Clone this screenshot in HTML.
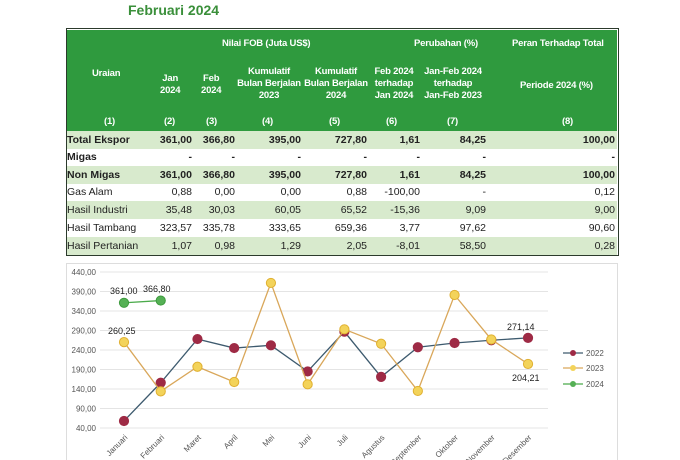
<!DOCTYPE html>
<html><head><meta charset="utf-8"><style>
body{margin:0;width:680px;height:460px;background:#fff;position:relative;overflow:hidden;font-family:"Liberation Sans",sans-serif}
.t{position:absolute;white-space:nowrap}
.h{color:#fff;font-weight:bold;font-size:9.5px;text-align:center;line-height:12px;letter-spacing:-0.2px}
.r{position:absolute;left:67px;width:550px;height:18px;font-size:10.5px;color:#222}
.r span{position:absolute;top:3px;white-space:nowrap}
.g{background:#d8eacd}
.b{font-weight:bold}
</style></head><body>
<div class="t" style="left:128px;top:2px;color:#3a8f3a;font-weight:bold;font-size:14px">Februari 2024</div>
<div style="position:absolute;left:66px;top:28px;width:551px;height:226px;border:1.5px solid #2c3a2c;"></div>
<div style="position:absolute;left:67px;top:30px;width:550px;height:101px;background:#2f9a3e"></div>
<div class="t h" style="left:222px;top:38px">Nilai FOB (Juta US$)</div>
<div class="t h" style="left:414px;top:38px">Perubahan (%)</div>
<div class="t h" style="left:512px;top:38px">Peran Terhadap Total</div>
<div class="t h" style="left:92px;top:68px">Uraian</div>
<div class="t h" style="left:160px;top:73px">Jan<br>2024</div>
<div class="t h" style="left:201px;top:73px">Feb<br>2024</div>
<div class="t h" style="left:236px;top:66px;width:66px">Kumulatif<br>Bulan Berjalan<br>2023</div>
<div class="t h" style="left:303px;top:66px;width:66px">Kumulatif<br>Bulan Berjalan<br>2024</div>
<div class="t h" style="left:370px;top:66px;width:48px">Feb 2024<br>terhadap<br>Jan 2024</div>
<div class="t h" style="left:420px;top:66px;width:66px">Jan-Feb 2024<br>terhadap<br>Jan-Feb 2023</div>
<div class="t h" style="left:520px;top:80px">Periode 2024 (%)</div>
<div class="t h" style="left:104px;top:116px">(1)</div>
<div class="t h" style="left:164px;top:116px">(2)</div>
<div class="t h" style="left:206px;top:116px">(3)</div>
<div class="t h" style="left:262px;top:116px">(4)</div>
<div class="t h" style="left:329px;top:116px">(5)</div>
<div class="t h" style="left:386px;top:116px">(6)</div>
<div class="t h" style="left:447px;top:116px">(7)</div>
<div class="t h" style="left:562px;top:116px">(8)</div>
<div id="rows"></div>
<svg style="position:absolute;left:0;top:0" width="680" height="460" id="ch"></svg>
<script>
var rows=[["Total Ekspor","361,00","366,80","395,00","727,80","1,61","84,25","100,00",1,1],
["Migas","-","-","-","-","-","-","-",0,1],
["Non Migas","361,00","366,80","395,00","727,80","1,61","84,25","100,00",1,1],
["Gas Alam","0,88","0,00","0,00","0,88","-100,00","-","0,12",0,0],
["Hasil Industri","35,48","30,03","60,05","65,52","-15,36","9,09","9,00",1,0],
["Hasil Tambang","323,57","335,78","333,65","659,36","3,77","97,62","90,60",0,0],
["Hasil Pertanian","1,07","0,98","1,29","2,05","-8,01","58,50","0,28",1,0]];
var rights=[192,235,301,367,420,486,615],tops=[131,148,166,183,201,219,237],h="";
rows.forEach(function(r,i){h+='<div class="r'+(r[8]?' g':'')+(r[9]?' b':'')+'" style="top:'+tops[i]+'px"><span style="left:0">'+r[0]+'</span>';
for(var j=1;j<8;j++)h+='<span style="right:'+(617-rights[j-1])+'px">'+r[j]+'</span>';h+='</div>';});
document.getElementById('rows').innerHTML=h;
var s='<rect x="66.5" y="263.5" width="551" height="200" fill="none" stroke="#ddd"/>';
function Y(v){return 428-(v-40)*0.39}function X(i){return 124+i*36.73}
for(var v=40;v<=440;v+=50){s+='<line x1="100" x2="548" y1="'+Y(v)+'" y2="'+Y(v)+'" stroke="#e4e4e4"/>';
s+='<text x="96" y="'+(Y(v)+3)+'" font-size="8" fill="#555" text-anchor="end" font-family="Liberation Sans">'+v+',00</text>';}
var m=["Januari","Februari","Maret","April","Mei","Juni","Juli","Agustus","September","Oktober","November","Desember"];
m.forEach(function(n,i){s+='<text transform="translate('+(X(i)+4)+',438) rotate(-45)" font-size="8" fill="#555" text-anchor="end" font-family="Liberation Sans">'+n+'</text>';});
function ser(d,lc,fc,sc){var p=d.map(function(v,i){return X(i)+','+Y(v)}).join(' ');
var o='<polyline points="'+p+'" fill="none" stroke="'+lc+'" stroke-width="1.3"/>';
d.forEach(function(v,i){o+='<circle cx="'+X(i)+'" cy="'+Y(v)+'" r="4.6" fill="'+fc+'" stroke="'+sc+'"/>'});return o;}
s+=ser([58,156,268,245,252,185,287,171,247,258,265,271.14],"#3d5a6e","#9e2a45","#9e2a45");
s+=ser([260.25,134,197,158,412,152,293,256,135,381,267,204.21],"#d9a75a","#f3d35a","#e0b030");
s+=ser([361,366.8],"#4aaa4a","#55b055","#3c9a3c");
var L=[[110,294,"361,00"],[143,292,"366,80"],[108,334,"260,25"],[507,330,"271,14"],[512,381,"204,21"]];
L.forEach(function(l){s+='<text x="'+l[0]+'" y="'+l[1]+'" font-size="9" fill="#222" font-family="Liberation Sans">'+l[2]+'</text>'});
[["2022","#3d5a6e","#9e2a45",353],["2023","#d9a75a","#f3d35a",368],["2024","#4aaa4a","#55b055",384]].forEach(function(l){
s+='<line x1="563" x2="583" y1="'+l[3]+'" y2="'+l[3]+'" stroke="'+l[1]+'" stroke-width="1.3"/><circle cx="573" cy="'+l[3]+'" r="3" fill="'+l[2]+'"/><text x="586" y="'+(l[3]+3)+'" font-size="8" fill="#555" font-family="Liberation Sans">'+l[0]+'</text>';});
document.getElementById('ch').innerHTML=s;
</script>
</body></html>
